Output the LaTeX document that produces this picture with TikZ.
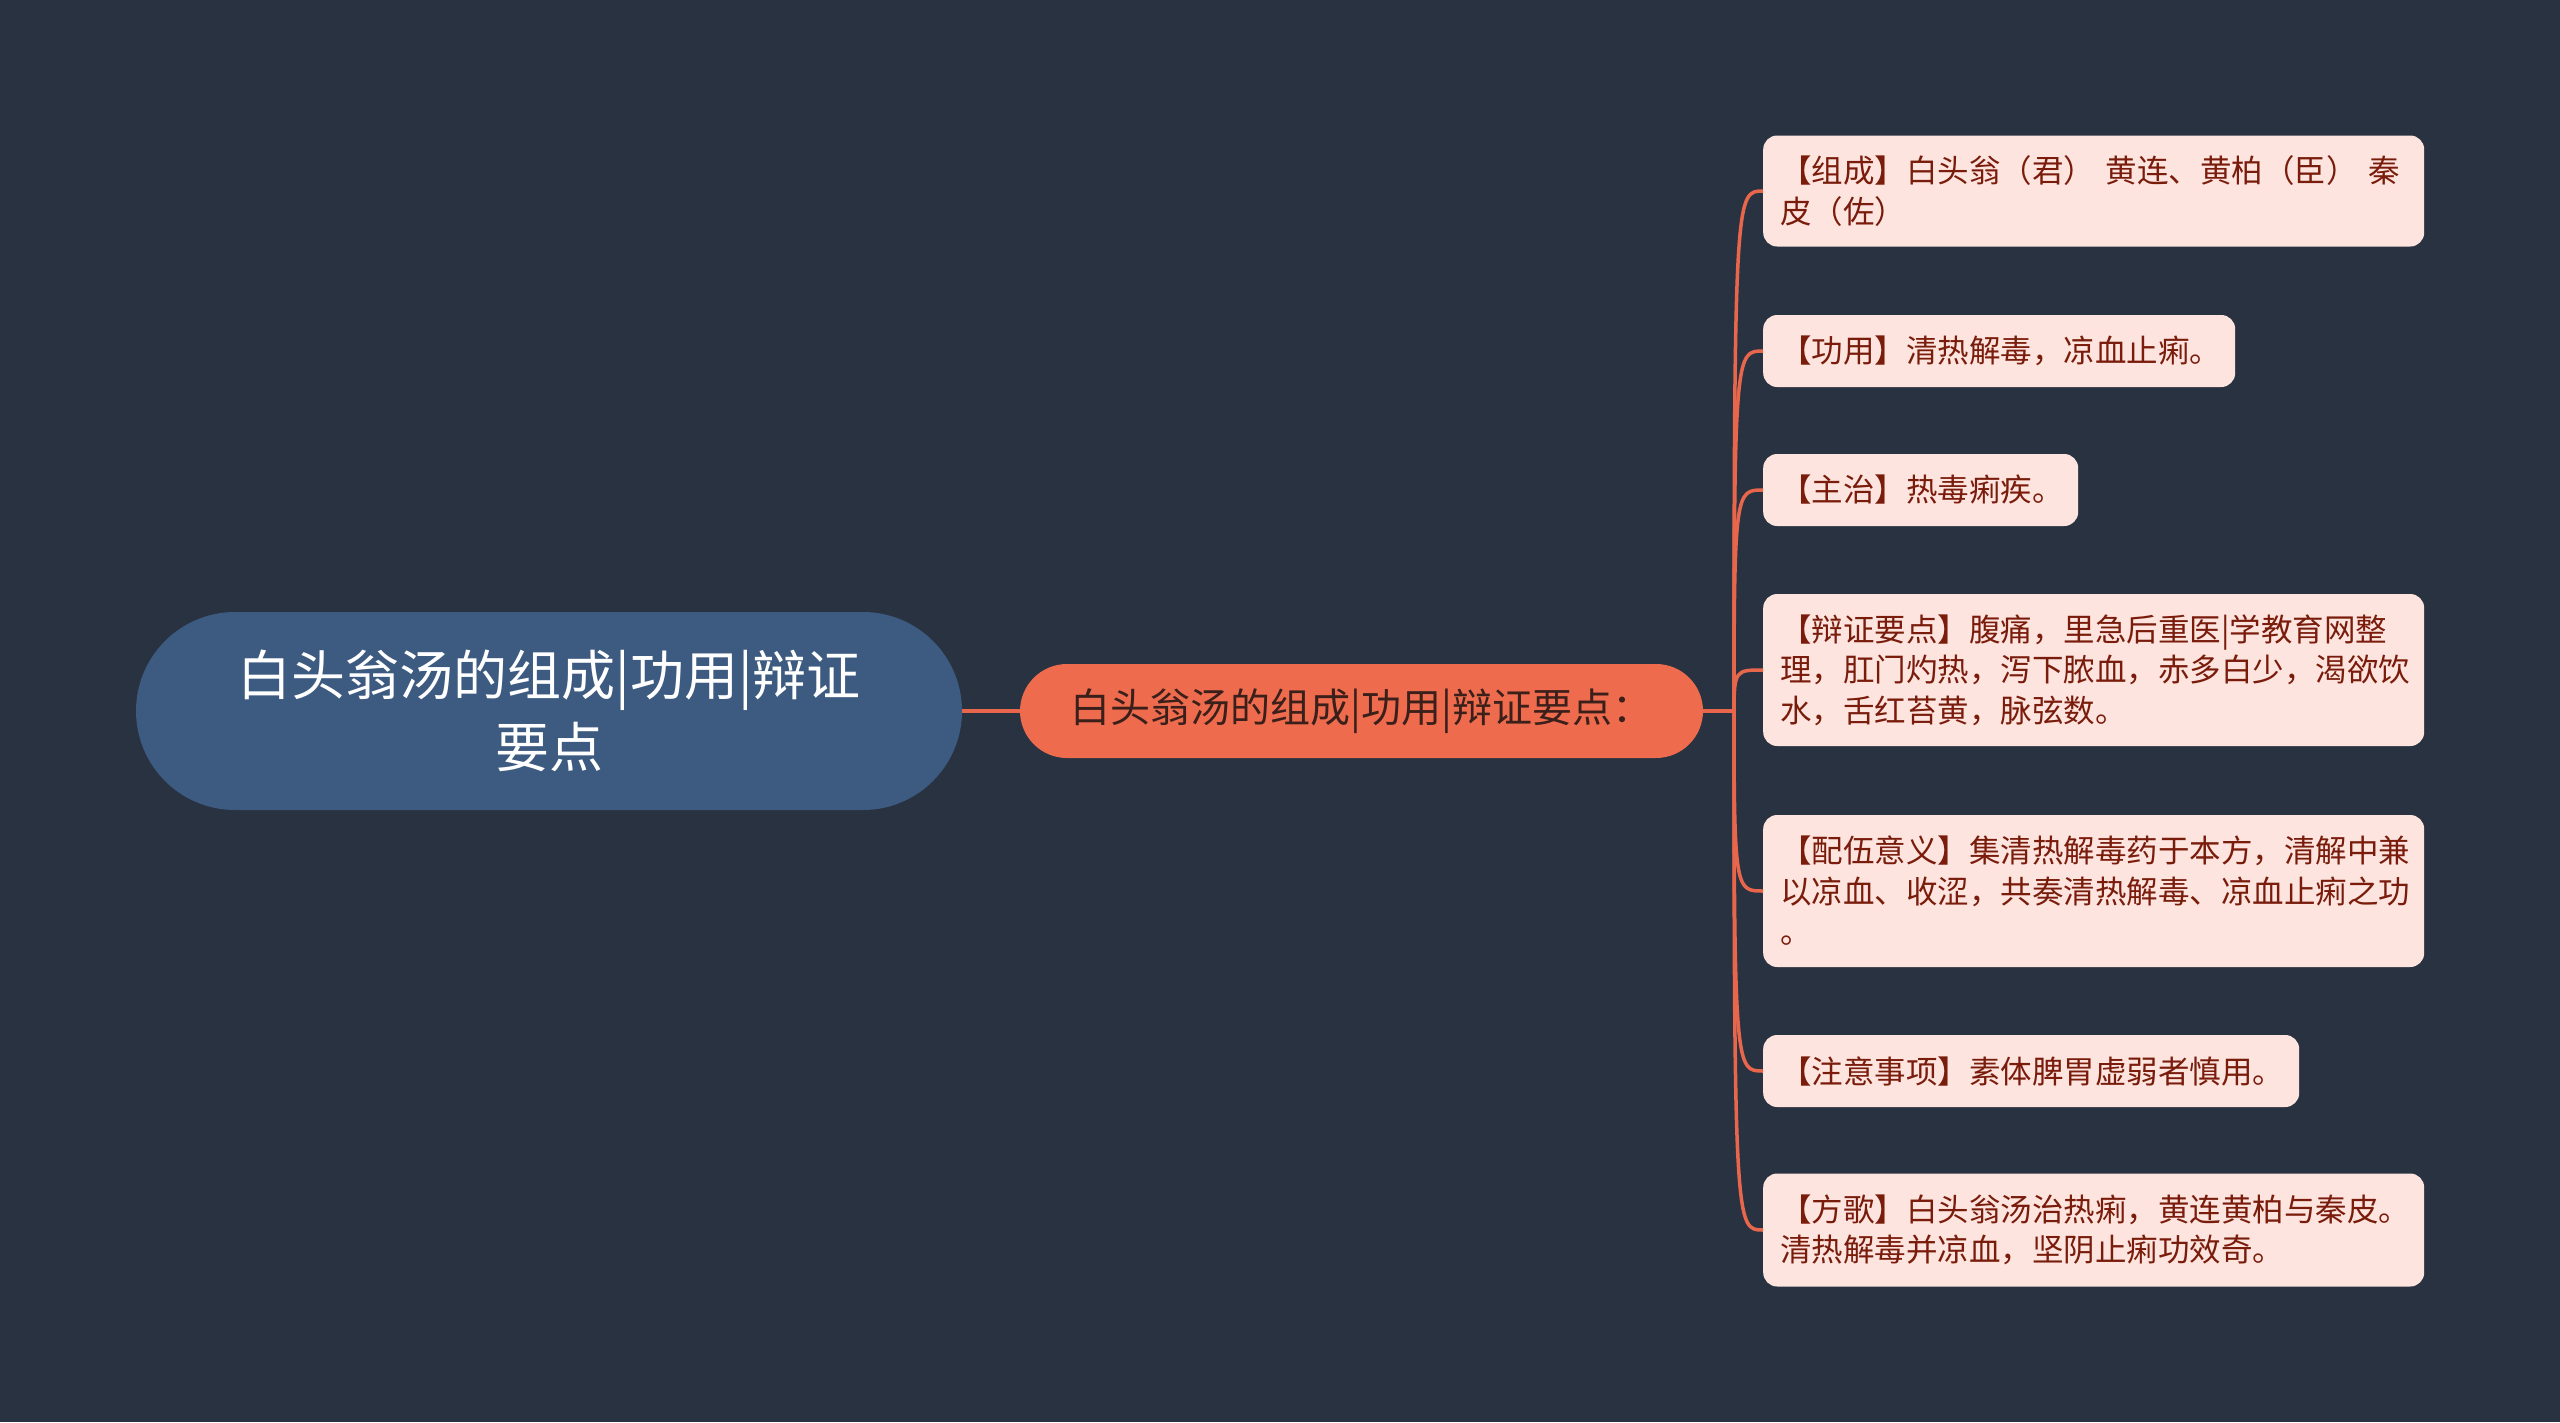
\documentclass[tikz,border=0pt]{standalone}
\usepackage{fontspec}
\newfontfamily\cjk{Noto Sans CJK SC}
\definecolor{bgc}{HTML}{293241}
\definecolor{rootc}{HTML}{3D5A80}
\definecolor{midc}{HTML}{EE6C4D}
\definecolor{midtext}{HTML}{3A1F1A}
\definecolor{leaffill}{HTML}{FDE4DE}
\definecolor{leaftext}{HTML}{7A1C0C}
\definecolor{linkc}{HTML}{E8674C}
\tikzset{
  rootbox/.style={fill=rootc, text=white, rounded corners=99pt, minimum width=826pt, minimum height=198pt,
    inner sep=0pt, align=center, font=\cjk\fontsize{54}{72}\selectfont},
  midbox/.style={fill=midc, text=midtext, rounded corners=47pt, minimum width=683pt, minimum height=94pt,
    inner sep=0pt, align=center, font=\cjk\fontsize{40}{48}\selectfont},
  leafbox/.style={fill=leaffill, text=leaftext, rounded corners=14pt, anchor=west, inner xsep=17pt, inner ysep=0pt,
    align=left, font=\cjk\fontsize{31.5}{40.5}\selectfont},
  link/.style={draw=linkc, line width=3.5pt},
}
\begin{document}
\begin{tikzpicture}[x=1pt,y=-1pt]
\fill[bgc] (0,0) rectangle (2560,1422);
\useasboundingbox (0,0) rectangle (2560,1422);

\node[rootbox] (root) at (549,711) {白头翁汤的组成|功用|辩证\\要点};
\node[midbox] (mid) at (1361.5,711) {白头翁汤的组成|功用|辩证要点：};

\node[leafbox, text width=627pt, minimum height=111pt] (l1) at (1763,191) {【组成】白头翁（君） 黄连、黄柏（臣） 秦\\皮（佐）};
\node[leafbox, text width=438pt, minimum height=72pt] (l2) at (1763,351) {【功用】清热解毒，凉血止痢。};
\node[leafbox, text width=281pt, minimum height=72pt] (l3) at (1763,490) {【主治】热毒痢疾。};
\node[leafbox, text width=627pt, minimum height=152pt] (l4) at (1763,670) {【辩证要点】腹痛，里急后重医|学教育网整\\理，肛门灼热，泻下脓血，赤多白少，渴欲饮\\水，舌红苔黄，脉弦数。};
\node[leafbox, text width=627pt, minimum height=152pt] (l5) at (1763,891) {【配伍意义】集清热解毒药于本方，清解中兼\\以凉血、收涩，共奏清热解毒、凉血止痢之功\\。};
\node[leafbox, text width=502pt, minimum height=72pt] (l6) at (1763,1071) {【注意事项】素体脾胃虚弱者慎用。};
\node[leafbox, text width=627pt, minimum height=113pt] (l7) at (1763,1230) {【方歌】白头翁汤治热痢，黄连黄柏与秦皮。\\清热解毒并凉血，坚阴止痢功效奇。};

\coordinate (T) at (1734,711);
\draw[link] (root.east) -- (mid.west);
\foreach \n/\y in {l1/191,l2/351,l3/490,l4/670,l5/891,l6/1071,l7/1230}{
  \draw[link] (mid.east) -- (T) .. controls (1734,\y) and (1736,\y) .. (\n.west);
}
\end{tikzpicture}
\end{document}
